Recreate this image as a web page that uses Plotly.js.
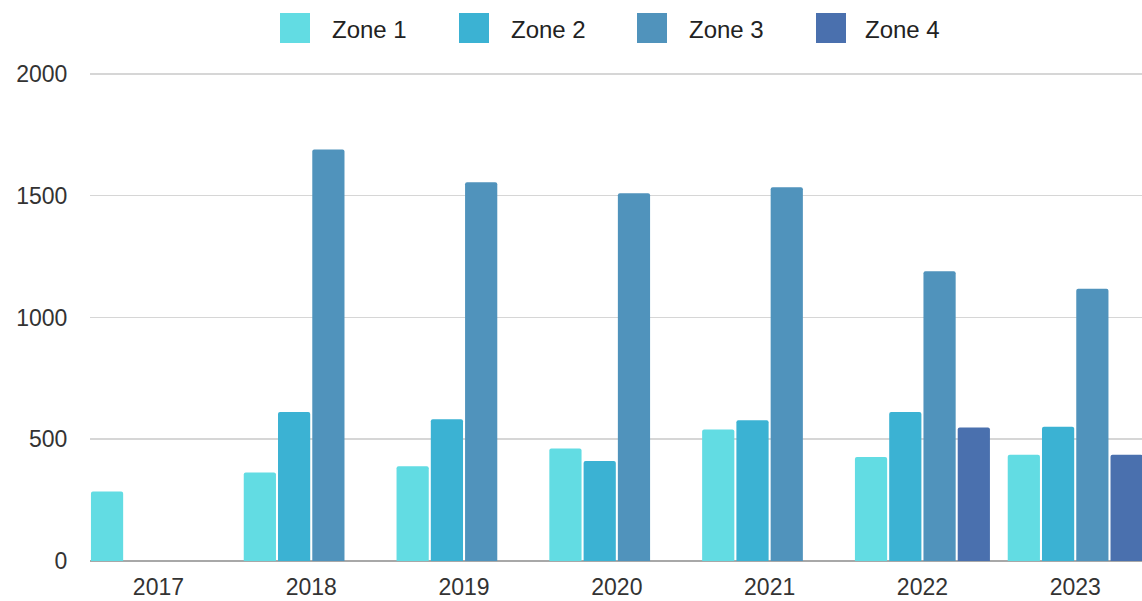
<!DOCTYPE html>
<html>
<head>
<meta charset="utf-8">
<script src="https://cdn.plot.ly/plotly-3.0.1.min.js"></script>
<style>html,body{margin:0;padding:0;background:#fff;}#chart{width:1142px;height:601px;}</style>
</head>
<body>
<div id="chart"></div>
<script>
// Data
const years = ['2017', '2018', '2019', '2020', '2021', '2022', '2023'];
const seriesNames = ['Zone 1', 'Zone 2', 'Zone 3', 'Zone 4'];
const zone1 = [285, 363, 389, 462, 540, 427, 436];
const zone2 = [null, 612, 582, 411, 578, 612, 551];
const zone3 = [null, 1689, 1555, 1510, 1534, 1190, 1118];
const zone4 = [null, null, null, null, null, 548, 436];
const yTicks = [0, 500, 1000, 1500, 2000];

// Styles
const colors = ['#62dce3', '#3bb2d3', '#5093bc', '#4a70ae'];
const seriesValues = [zone1, zone2, zone3, zone4];

const W = 1142, H = 601;
const margin = {l: 90, r: 0, t: 69, b: 40};
const plotW = W - margin.l - margin.r;
const plotH = H - margin.t - margin.b;
const px2x = px => (px - margin.l) / plotW;
const px2y = py => (H - margin.b - py) / plotH;

const traces = seriesNames.map((name, i) => ({
  type: 'bar',
  name: name,
  x: years,
  y: seriesValues[i],
  marker: {color: colors[i], line: {width: 0}},
  showlegend: false,
  hoverinfo: 'x+y+name'
}));

// Manual legend (large squares like the reference)
const legendSquareLeft = [280, 459, 637, 816];
const legendTextLeft = [330, 509, 687, 863];
const shapes = [];
const annotations = [];
seriesNames.forEach((name, i) => {
  shapes.push({
    type: 'rect', xref: 'paper', yref: 'paper',
    x0: px2x(legendSquareLeft[i]), x1: px2x(legendSquareLeft[i] + 30),
    y0: px2y(43), y1: px2y(13),
    fillcolor: colors[i], line: {width: 0}
  });
  annotations.push({
    xref: 'paper', yref: 'paper',
    x: px2x(legendTextLeft[i]), y: px2y(29),
    xanchor: 'left', yanchor: 'middle',
    text: name, showarrow: false,
    font: {family: 'Liberation Sans, Arial, sans-serif', size: 24, color: '#222'}
  });
});

const layout = {
  width: W, height: H,
  margin: margin,
  paper_bgcolor: '#ffffff',
  plot_bgcolor: '#ffffff',
  barmode: 'group',
  bargap: 0.103,
  bargroupgap: 0.06,
  barcornerradius: 2,
  font: {family: 'Liberation Sans, Arial, sans-serif', size: 23, color: '#333'},
  xaxis: {
    type: 'category',
    range: [-0.448, 6.437],
    showgrid: false,
    zeroline: false,
    showline: false,
    ticks: 'outside', ticklen: 5, tickcolor: 'rgba(0,0,0,0)',
    tickfont: {size: 23, color: '#333'}
  },
  yaxis: {
    range: [0, 2020],
    tickvals: yTicks,
    ticktext: yTicks.map(String),
    showgrid: true,
    gridcolor: '#d6d6d6',
    gridwidth: 1.5,
    zeroline: true,
    zerolinecolor: '#a8a8a8',
    zerolinewidth: 2,
    showline: false,
    ticks: 'outside', ticklen: 17, tickcolor: 'rgba(0,0,0,0)',
    tickfont: {size: 23, color: '#333'}
  },
  shapes: shapes,
  annotations: annotations,
  showlegend: false
};

Plotly.newPlot('chart', traces, layout, {displayModeBar: false, staticPlot: true});
</script>
</body>
</html>
